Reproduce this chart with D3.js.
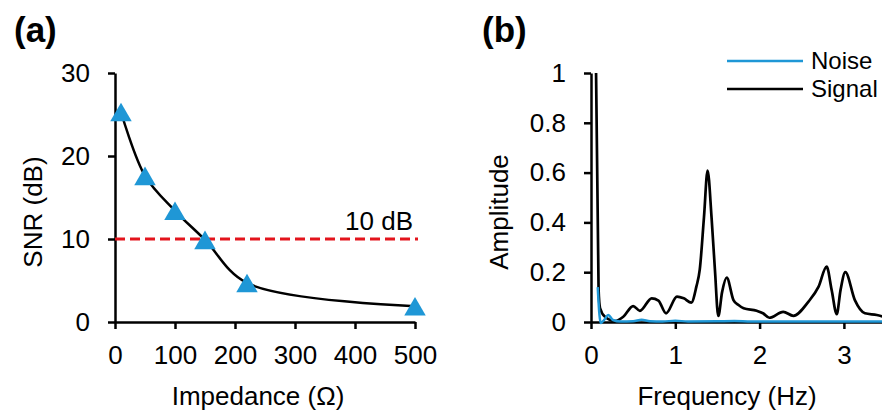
<!DOCTYPE html>
<html>
<head>
<meta charset="utf-8">
<script src="https://cdn.jsdelivr.net/npm/d3@7"></script>
<style>
  body { margin: 0; background: #fff; }
  svg { display: block; font-family: "Liberation Sans", Arial, sans-serif; }
  .axis path, .axis line { stroke: #000; stroke-width: 2.5; }
  .axis text { font-size: 26px; fill: #000; }
</style>
</head>
<body>
<svg id="graph" width="882" height="412"></svg>
<script>
// Panel (a): SNR against impedance
var impedance = [10, 50, 100, 150, 220, 500];
var snr = [25.3, 17.6, 13.4, 9.9, 4.7, 1.9];
var snrTicks = [0, 10, 20, 30];
var impTicks = [0, 100, 200, 300, 400, 500];
var threshold = 10;

// Panel (b): amplitude spectra
var sigFreq = [0.06, 0.09, 0.107, 0.166, 0.285, 0.383, 0.50, 0.58, 0.72, 0.80, 0.89, 1.02, 1.10, 1.19, 1.25, 1.29,
               1.34, 1.383, 1.43, 1.47, 1.51, 1.555, 1.61, 1.69, 1.75, 1.81, 1.965, 2.04, 2.115, 2.28, 2.40, 2.58,
               2.70, 2.795, 2.855, 2.915, 2.96, 3.017, 3.13, 3.25, 3.39, 3.5];
var sigAmp = [1.0, 0.13, 0.056, 0.021, 0.004, 0.021, 0.064, 0.045, 0.095, 0.086, 0.035, 0.102, 0.095, 0.078, 0.142, 0.21,
              0.42, 0.608, 0.42, 0.21, 0.024, 0.12, 0.178, 0.088, 0.068, 0.055, 0.045, 0.035, 0.017, 0.041, 0.025, 0.082,
              0.142, 0.222, 0.128, 0.032, 0.128, 0.20, 0.088, 0.035, 0.028, 0.018];
var noiseFreq = [0.08, 0.10, 0.115, 0.16, 0.205, 0.26, 0.35, 0.5, 0.6, 0.7, 0.85, 1.0, 1.15, 1.5, 1.7, 1.9, 2.5, 3.0, 3.5];
var noiseAmp = [0.14, 0.03, -0.004, 0.01, 0.028, 0.008, 0.002, 0.003, 0.009, 0.003, 0.002, 0.005, 0.002, 0.003, 0.004, 0.002, 0.002, 0.002, 0.002];
var ampTicks = [0, 0.2, 0.4, 0.6, 0.8, 1];
var freqTicks = [0, 1, 2, 3];
var legendNames = ["Noise", "Signal"];

var blue = "#1f97d6";
var fs = 26;
var svg = d3.select("#graph");

// ---------- panel (a) ----------
var xA = d3.scaleLinear().domain([0, 500]).range([115, 415]);
var yA = d3.scaleLinear().domain([0, 30]).range([322, 73]);

svg.append("g").attr("class", "axis")
    .attr("transform", "translate(0," + yA(0) + ")")
    .call(d3.axisBottom(xA).tickValues(impTicks).tickSize(7).tickSizeOuter(0).tickPadding(17));
svg.append("g").attr("class", "axis")
    .attr("transform", "translate(" + xA(0) + ",0)")
    .call(d3.axisLeft(yA).tickValues(snrTicks).tickSize(7).tickSizeOuter(0).tickPadding(18));

// threshold line
svg.append("line")
    .attr("x1", xA(0)).attr("x2", xA(500) + 3)
    .attr("y1", yA(threshold)).attr("y2", yA(threshold))
    .attr("stroke", "#e3141c").attr("stroke-width", 3)
    .attr("stroke-dasharray", "10,5");
svg.append("text")
    .attr("x", 413).attr("y", yA(threshold) - 9)
    .attr("text-anchor", "end").attr("font-size", fs)
    .text(threshold + " dB");

var ptsA = impedance.map((d, i) => [d, snr[i]]);
svg.append("path").datum(ptsA)
    .attr("fill", "none").attr("stroke", "#000").attr("stroke-width", 2.5)
    .attr("d", d3.line().x(p => xA(p[0])).y(p => yA(p[1])).curve(d3.curveCatmullRom.alpha(0.5)));

// triangle markers, shifted so the box centre sits on the point
var triSize = 200, r = Math.sqrt(triSize / (3 * Math.sqrt(3)));
svg.selectAll(".tri").data(ptsA).enter().append("path")
    .attr("class", "tri")
    .attr("fill", blue)
    .attr("transform", p => "translate(" + xA(p[0]) + "," + (yA(p[1]) + r / 2) + ")")
    .attr("d", d3.symbol().type(d3.symbolTriangle).size(triSize));

svg.append("text")
    .attr("transform", "translate(42,212) rotate(-90)")
    .attr("text-anchor", "middle").attr("font-size", fs)
    .text("SNR (dB)");
svg.append("text")
    .attr("x", 258).attr("y", 405)
    .attr("text-anchor", "middle").attr("font-size", fs)
    .text("Impedance (Ω)");
svg.append("text")
    .attr("x", 14).attr("y", 42)
    .attr("font-size", 35).attr("font-weight", "bold")
    .text("(a)");

// ---------- panel (b) ----------
var xB = d3.scaleLinear().domain([0, 3.5]).range([591, 591 + 3.5 * 84.3]);
var yB = d3.scaleLinear().domain([0, 1]).range([322, 73]);

svg.append("g").attr("class", "axis")
    .attr("transform", "translate(0," + yB(0) + ")")
    .call(d3.axisBottom(xB).tickValues(freqTicks).tickFormat(d3.format("")).tickSize(7).tickSizeOuter(0).tickPadding(17));
svg.append("g").attr("class", "axis")
    .attr("transform", "translate(" + xB(0) + ",0)")
    .call(d3.axisLeft(yB).tickValues(ampTicks).tickFormat(d3.format("")).tickSize(7).tickSizeOuter(0).tickPadding(18));

var lineB = d3.line().x(p => xB(p[0])).y(p => yB(p[1])).curve(d3.curveMonotoneX);
svg.append("path").datum(sigFreq.map((d, i) => [d, sigAmp[i]]))
    .attr("fill", "none").attr("stroke", "#000").attr("stroke-width", 2.7)
    .attr("stroke-linejoin", "round")
    .attr("d", lineB);
svg.append("path").datum(noiseFreq.map((d, i) => [d, noiseAmp[i]]))
    .attr("fill", "none").attr("stroke", blue).attr("stroke-width", 2.5)
    .attr("stroke-linejoin", "round")
    .attr("d", lineB);

// legend
var legColors = [blue, "#000"];
legendNames.forEach(function(name, i) {
    var ly = 61 + i * 28;
    svg.append("line")
        .attr("x1", 727).attr("x2", 803).attr("y1", ly).attr("y2", ly)
        .attr("stroke", legColors[i]).attr("stroke-width", 2.5);
    svg.append("text")
        .attr("x", 811).attr("y", ly).attr("dy", "0.35em")
        .attr("font-size", 24)
        .text(name);
});

svg.append("text")
    .attr("transform", "translate(508,212) rotate(-90)")
    .attr("text-anchor", "middle").attr("font-size", fs)
    .text("Amplitude");
svg.append("text")
    .attr("x", 727).attr("y", 405)
    .attr("text-anchor", "middle").attr("font-size", fs)
    .text("Frequency (Hz)");
svg.append("text")
    .attr("x", 482).attr("y", 42)
    .attr("font-size", 35).attr("font-weight", "bold")
    .text("(b)");
</script>
</body>
</html>
